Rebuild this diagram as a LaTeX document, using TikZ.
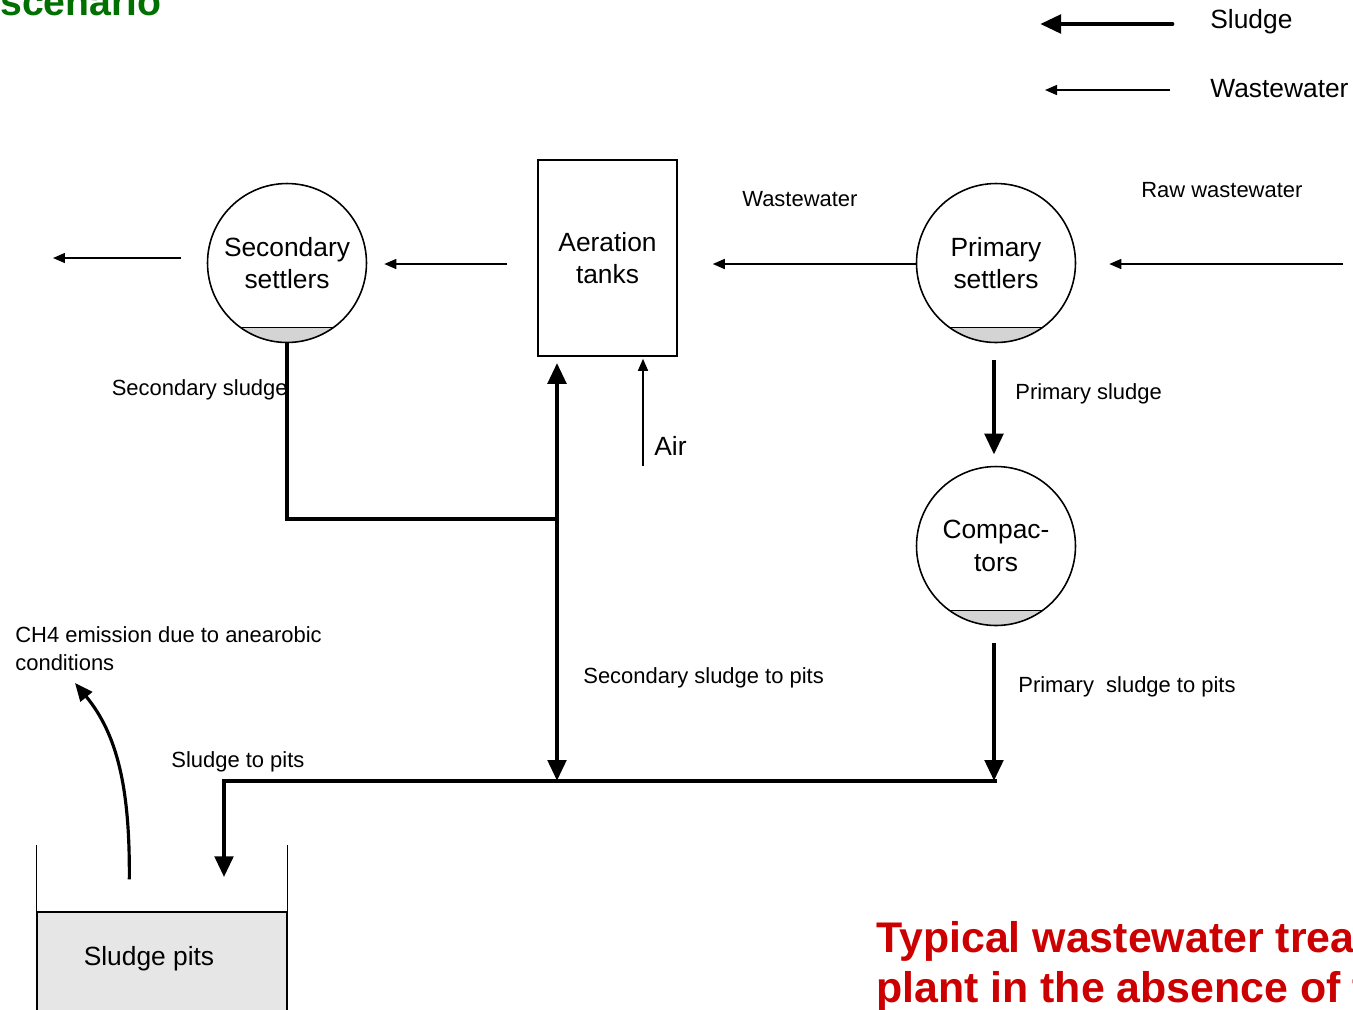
\documentclass[tikz,border=0pt]{standalone}
\usepackage{fontspec}
\setmainfont{Liberation Sans}
\usetikzlibrary{positioning, arrows.meta, calc}

\definecolor{titlered}{RGB}{204,0,0}
\definecolor{titlegreen}{RGB}{0,112,0}
\definecolor{sludgegray}{RGB}{212,212,212}
\definecolor{pitgray}{RGB}{230,230,230}

\begin{document}
\begin{tikzpicture}[
    x=0.02cm, y=-0.02cm,
    unit/.style={circle, draw, line width=0.9pt, minimum size=3.18cm, inner sep=0pt, align=center,
        font=\fontsize{15}{18.7}\selectfont,
        path picture={
            \fill[sludgegray] (path picture bounding box.south west) rectangle ([yshift=0.3cm]path picture bounding box.south east);
            \draw[line width=0.8pt] ([yshift=0.3cm]path picture bounding box.south west) -- ([yshift=0.3cm]path picture bounding box.south east);
        }},
    tank/.style={draw, line width=0.9pt, minimum width=2.78cm, minimum height=3.92cm, align=center,
        font=\fontsize{15}{18.7}\selectfont},
    note/.style={font=\fontsize{12.5}{15.8}\selectfont, inner sep=0pt, align=left},
    big/.style={font=\fontsize{15}{18.7}\selectfont, inner sep=0pt},
    water/.style={-{Triangle[length=0.24cm, width=0.2cm]}, line width=0.8pt},
    sludge/.style={-{Triangle[length=0.42cm, width=0.36cm]}, line width=2.8pt},
    twoway/.style={{Triangle[length=0.42cm, width=0.36cm]}-{Triangle[length=0.42cm, width=0.36cm]}, line width=2.8pt},
    pipe/.style={line width=2.8pt},
    gas/.style={-{Triangle[length=0.36cm, width=0.3cm]}, line width=1.8pt}
]
    \useasboundingbox (0,0) rectangle (1353,1009);
    \clip (0,0) rectangle (1353,1009);

    % NODES
    \node[unit] (sec) at (287,263) {Secondary\\settlers};
    \node[tank] (aer) at (607.5,258) {Aeration\\tanks};
    \node[unit] (prim) at (996,263) {Primary\\settlers};
    \node[unit] (comp) at (996,546) {Compac-\\tors};
    \node[draw, fill=pitgray, line width=0.8pt, minimum width=5cm, minimum height=2.04cm, inner sep=0pt] (pits) at (162,963) {};
    \node[big] (pitslbl) at (149,959) {Sludge pits};

    \node[note, anchor=west] (rawlbl) at (1141,190) {Raw wastewater};
    \node[note, anchor=west] (wwlbl) at (742,199) {Wastewater};
    \node[note, anchor=east] (seclbl) at (288,390) {Secondary sludge};
    \node[note, anchor=west] (primlbl) at (1015,394) {Primary sludge};
    \node[big, anchor=west] (airlbl) at (654,446) {Air};
    \node[note, anchor=west] (sec2pits) at (583,678) {Secondary sludge to pits};
    \node[note, anchor=west] (prim2pits) at (1018,687) {Primary\ \ sludge to pits};
    \node[note, anchor=west] (pitlbl) at (171,762) {Sludge to pits};
    \node[note, anchor=north west] (ch4lbl) at (15,626) {CH4 emission due to anearobic\\conditions};

    \node[big, anchor=west] (legsludge) at (1210,22) {Sludge};
    \node[big, anchor=west] (legwater) at (1210,89) {Wastewater};

    \node[font=\bfseries\fontsize{22.3}{26}\selectfont, text=titlegreen, anchor=base west, inner sep=0pt] (scen) at (0,15) {scenario};
    \node[font=\bfseries\fontsize{24.4}{28.3}\selectfont, text=titlered, anchor=north west, inner sep=0pt, align=left] (title) at (876,921) {Typical wastewater trea\\plant in the absence of t};

    % EDGES
    \coordinate (rawin) at (1343,264);
    \draw[water] (rawin) -- ($(prim.east)+(33,1)$);
    \draw[water] ($(prim.west)+(0,1)$) -- ($(aer.east |- prim.west)+(35,1)$);
    \draw[water] ($(aer.west |- sec.east)+(-30,1)$) -- ($(sec.east)+(17,1)$);
    \coordinate (effl) at (53,258);
    \draw[water] ($(sec.west)+(-26,-5)$) -- (effl);
    \coordinate (airin) at (643,466);
    \draw[water] (airin) -- ($(airin |- aer.south)+(0,2)$);

    \coordinate (secjoin) at (559,519);
    \draw[pipe] (sec.south) |- (secjoin);
    \coordinate (pitjoin) at (557,781);
    \draw[twoway] (pitjoin) -- ($(pitjoin |- aer.south)+(0,6)$);

    \draw[sludge] ($(prim.south)+(-2,17)$) -- ($(comp.north)+(-2,-11)$);
    \coordinate (primjoin) at (994,781);
    \draw[sludge] ($(comp.south)+(-2,17)$) -- (primjoin);
    \draw[sludge] ($(primjoin)+(3,0)$) -| ($(pits.north)+(62,-34)$);

    \draw[line width=0.8pt] (pits.north west) -- ++(0,-66);
    \draw[line width=0.8pt] (pits.north east) -- ++(0,-66);
    \coordinate (ch4top) at (75,683);
    \draw[gas] ($(pits.north west)+(93,-32)$) .. controls (130,790) and (118,735) .. (ch4top);

    \draw[sludge, line cap=round] ($(legsludge.west)+(-38,2)$) -- ++(-132,0);
    \draw[water] ($(legwater.west)+(-40,1)$) -- ++(-125,0);

\end{tikzpicture}
\end{document}
